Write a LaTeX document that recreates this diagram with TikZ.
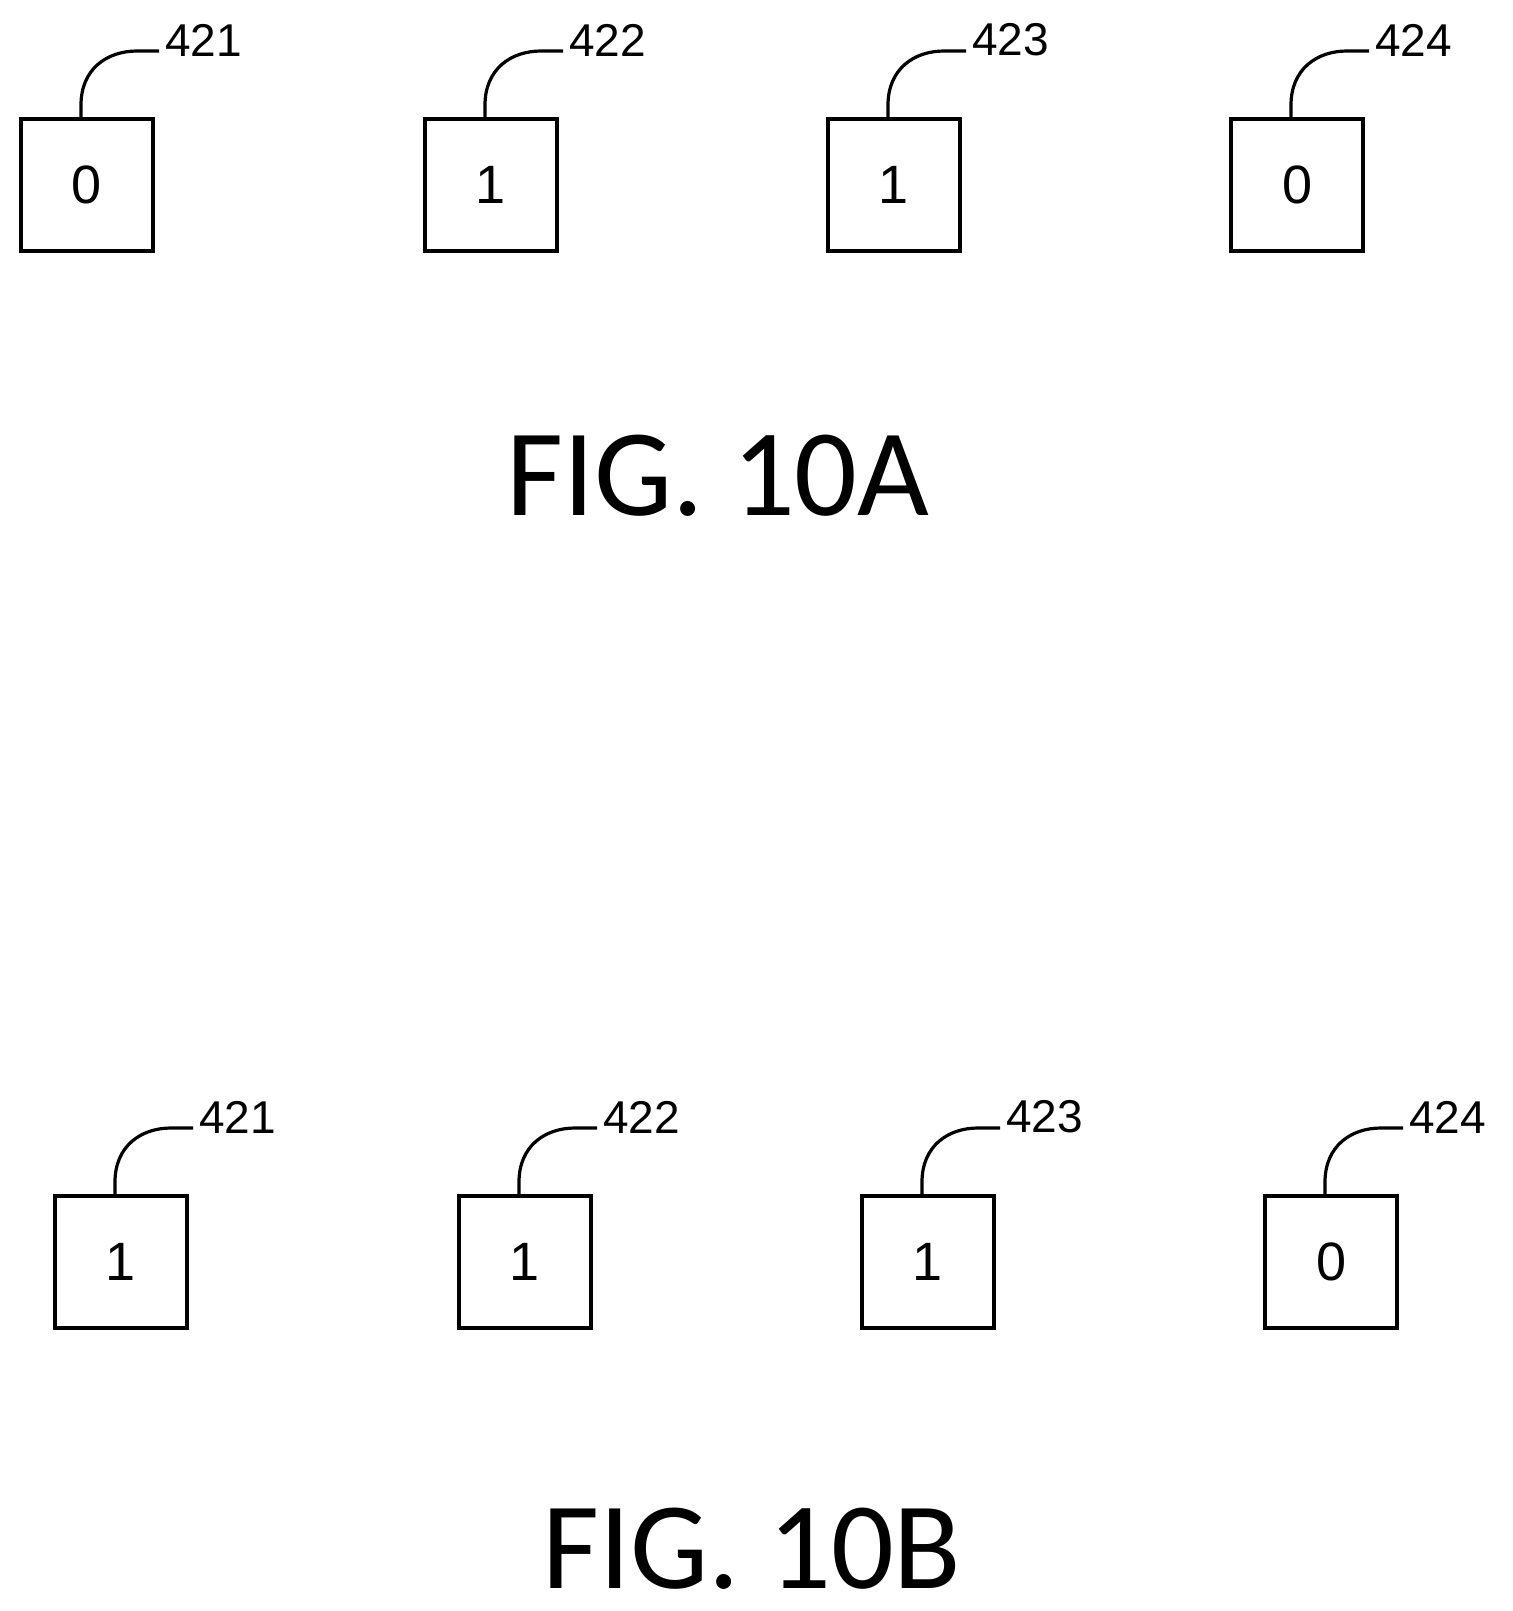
\documentclass[tikz,border=0pt]{standalone}
\usepackage{fontspec}
\setmainfont{Liberation Sans}
\newfontfamily\figfont{Carlito}
\tikzset{bitbox/.style={draw,line width=1.6pt,minimum size=66pt,inner sep=0pt,font=\fontsize{27}{30}\selectfont},
lead/.style={line width=1.6pt},
reflab/.style={anchor=west,inner sep=0pt,font=\fontsize{23}{26}\selectfont},
figlab/.style={font=\figfont\fontsize{62}{70}\selectfont}}
\begin{document}
\begin{tikzpicture}[x=0.5pt,y=-0.5pt]
\useasboundingbox (0,0) rectangle (1512,1611);
\foreach \bx/\by/\v/\r/\n in {21/119/0/421/a1,425/119/1/422/a2,828/119/1/423/a3,1231/119/0/424/a4,55/1196/1/421/b1,459/1196/1/422/b2,862/1196/1/423/b3,1265/1196/0/424/b4}{
  \node[bitbox] (\n) at (\bx+66,\by+66) {\v};
  \node[reflab] (\n l) at (\bx+144,\by-79) {\r};
  \coordinate (\n t) at (\bx+60,\by);
  \draw[lead] (\n t) -- ++(0,-14) .. controls (\bx+60,\by-50) and (\bx+86,\by-68) .. (\bx+116,\by-68) -- (\bx+138,\by-68);
}
\node[figlab] (fa) at (718,476) {FIG. 10A};
\node[figlab] (fb) at (752,1549) {FIG. 10B};
\end{tikzpicture}
\end{document}
